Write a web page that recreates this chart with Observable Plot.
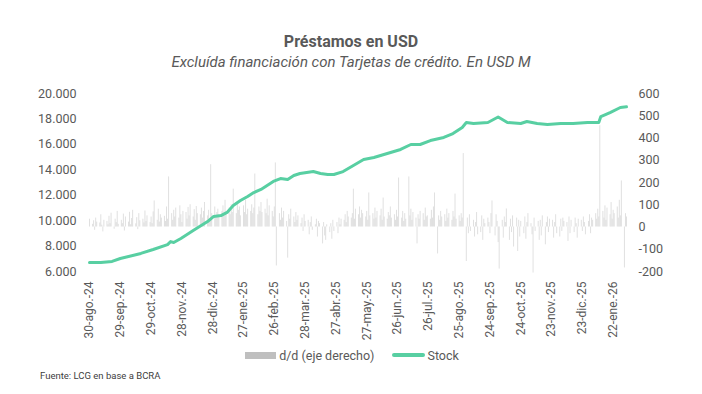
<!DOCTYPE html>
<html>
<head>
<meta charset="utf-8">
<script src="https://cdn.jsdelivr.net/npm/d3@7"></script>
<script src="https://cdn.jsdelivr.net/npm/@observablehq/plot@0.6"></script>
<style>
  html, body { margin: 0; padding: 0; background: #fff; }
  #wrap { position: relative; width: 702px; height: 394px; font-family: Roboto, "Liberation Sans", sans-serif; color: #595959; overflow: hidden; }
  #title { position: absolute; top: 31px; left: 0; width: 702px; text-align: center; font-weight: bold; font-size: 16px; line-height: 22px; }
  #sub { position: absolute; top: 52px; left: 0; width: 702px; text-align: center; font-style: italic; font-size: 15px; line-height: 20px; }
  #chart { position: absolute; top: 80px; left: 0; }
  #legend { position: absolute; top: 346px; left: 0; width: 702px; height: 18px; display: flex; justify-content: center; align-items: center; font-size: 12.5px; padding-left: 2px; box-sizing: border-box; }
  #legend .sw1 { display: inline-block; width: 31px; height: 7px; background: #bfbfbf; margin-right: 3px; }
  #legend .sw2 { display: inline-block; width: 33px; height: 4px; background: #58cfa2; border-radius: 2px; margin-left: 18px; margin-right: 2px; }
  #source { position: absolute; top: 370px; left: 40px; font-size: 9.5px; line-height: 12px; color: #404040; }
</style>
</head>
<body>
<div id="wrap">
  <div id="title">Préstamos en USD</div>
  <div id="sub">Excluída financiación con Tarjetas de crédito. En USD M</div>
  <div id="chart"></div>
  <div id="legend"><span class="sw1"></span><span>d/d (eje derecho)</span><span class="sw2"></span><span>Stock</span></div>
  <div id="source">Fuente: LCG en base a BCRA</div>
</div>
<script>
// ---- Data ----
const startDate = "2024-08-30";
const endDate = "2026-02-04";

const tickDates = ["2024-08-30","2024-09-29","2024-10-29","2024-11-28","2024-12-28","2025-01-27","2025-02-26","2025-03-28","2025-04-27","2025-05-27","2025-06-26","2025-07-26","2025-08-25","2025-09-24","2025-10-24","2025-11-23","2025-12-23","2026-01-22"];
const tickLabels = ["30-ago.-24","29-sep.-24","29-oct.-24","28-nov.-24","28-dic.-24","27-ene.-25","26-feb.-25","28-mar.-25","27-abr.-25","27-may.-25","26-jun.-25","26-jul.-25","25-ago.-25","24-sep.-25","24-oct.-25","23-nov.-25","23-dic.-25","22-ene.-26"];

const leftTicks = [6000, 8000, 10000, 12000, 14000, 16000, 18000, 20000];
const rightTicks = [-200, -100, 0, 100, 200, 300, 400, 500, 600];

// Stock (USD M), left axis
const stockDates = ["2024-08-30","2024-09-10","2024-09-21","2024-09-29","2024-10-19","2024-10-31","2024-11-14","2024-11-17","2024-11-20","2024-11-27","2024-12-09","2024-12-23","2024-12-29","2025-01-05","2025-01-11","2025-01-17","2025-01-24","2025-01-31","2025-02-06","2025-02-13","2025-02-19","2025-02-25","2025-03-04","2025-03-11","2025-03-17","2025-03-23","2025-04-05","2025-04-12","2025-04-19","2025-04-25","2025-05-04","2025-05-14","2025-05-24","2025-06-03","2025-06-16","2025-06-29","2025-07-09","2025-07-18","2025-07-28","2025-08-10","2025-08-19","2025-08-28","2025-09-01","2025-09-08","2025-09-22","2025-10-02","2025-10-11","2025-10-24","2025-10-30","2025-11-09","2025-11-19","2025-12-02","2025-12-14","2025-12-28","2026-01-08","2026-01-10","2026-01-19","2026-01-29","2026-02-04"];
const stockValues = [6700,6700,6790,7020,7420,7730,8120,8350,8280,8600,9220,9930,10330,10400,10650,11190,11580,11900,12210,12450,12760,13080,13310,13230,13550,13710,13860,13710,13630,13630,13860,14340,14810,14970,15280,15600,15990,15990,16300,16540,16850,17330,17720,17640,17720,18150,17720,17640,17800,17640,17560,17640,17640,17720,17720,18190,18500,18900,18950];

// Daily change d/d (USD M), right axis — one value per business day, one row per week
const ddValues = [
  35,
  12, 28, -15, 40, 22,
  18, 55, 8, -22, 30,
  25, 10, 48, 15, 62,
  -10, 35, 20, 70, 12,
  30, 15, 58, -18, 45,
  22, 66, 10, 38, 75,
  14, 42, -12, 60, 28,
  35, 18, 72, 25, 50,
  20, 45, 15, 68, 117,
  30, 80, 22, 55, 40,
  48, 25, 90, 35, 225,
  60, 30, 75, 45, 85,
  40, 95, 55, 20, 70,
  65, 35, 88, 50, 100,
  45, 78, 30, 92, 60,
  55, 85, 40, 70, 110,
  50, 75, 35, 280, 60,
  90, 40, 65, 80, 45,
  70, 95, 50, 120, 60,
  85, 55, 100, 65, 170,
  60, 110, 75, 90, 50,
  95, 65, 120, 55, 80,
  70, 100, 60, 85, 238,
  55, 90, 70, 110, 65,
  80, 60, 125, 50, 95,
  70, 45, 90, 288, -175,
  60, 30, 85, 40, 70,
  25, -140, 55, 35, 80,
  45, 20, 65, 30, 50,
  15, 40, -20, 55, 25,
  30, -35, 20, 45, -15,
  10, 35, -45, 25, 15,
  -76, 20, -40, -60, 10,
  -25, 15, -55, 30, -20,
  20, -30, 40, 10, 35,
  30, 55, 20, 70, 45,
  40, 60, 170, 35, 80,
  55, 90, 40, 75, 60,
  45, 70, 30, 153, 50,
  60, 35, 85, 40, 70,
  50, 80, 30, 130, 45,
  35, 65, 50, 90, 40,
  55, 30, 75, 45, 220,
  40, 70, 25, 60, 35,
  225, 50, 80, 30, 65,
  40, -76, 55, 35, 70,
  60, 30, 85, 45, 50,
  35, 75, 40, 90, 153,
  -121, 50, 30, 70, 45,
  55, 25, 80, 40, 60,
  30, 70, 45, 148, 35,
  50, 25, 60, 40, 330,
  -155, 40, -30, 55, -20,
  30, -45, 20, 65, -35,
  -25, 50, -60, 35, 15,
  40, 20, -30, 60, 117,
  -40, 55, 25, -70, -189,
  30, -50, 45, 20, 81,
  -60, 35, -25, 50, -90,
  40, -110, 30, -45, 25,
  -30, 45, -55, 20, 60,
  15, -35, -207, 40, -20,
  25, -60, 30, -40, 50,
  -80, 20, 45, -25, 35,
  30, -50, 20, 55, -30,
  -45, 35, -20, 40, 25,
  20, -65, 45, -30, 30,
  -25, 40, 15, -50, 35,
  30, -20, 45, 20, -35,
  25, 55, -30, 40, 30,
  60, 35, 80, 45, 455,
  70, 40, 95, 30, 85,
  55, 110, 35, 75, 60,
  90, 40, 120, 50, 207,
  -184, 60, 45
];

// ---- Build tables ----
const parse = d3.utcParse("%Y-%m-%d");
const start = parse(startDate), end = parse(endDate);
const stock = stockDates.map((d, i) => ({date: parse(d), value: stockValues[i]}));
const businessDays = d3.utcDay.range(start, d3.utcDay.offset(end, 1)).filter(d => d.getUTCDay() !== 0 && d.getUTCDay() !== 6);
const n = Math.min(businessDays.length, ddValues.length);
const bars = d3.range(n).map(i => ({date: businessDays[i], value: ddValues[i]}));
const tickMap = new Map(tickDates.map((d, i) => [+parse(d), tickLabels[i]]));

// right axis (-200..600) aligned with left axis (6000..20000)
const toLeft = r => 9500 + r * 17.5;
const fromLeft = v => Math.round((v - 9500) / 17.5);
const fmtLeft = v => d3.format(",")(v).replace(/,/g, ".");

const chart = Plot.plot({
  width: 702,
  height: 265,
  marginTop: 13,
  marginBottom: 74,
  marginLeft: 89,
  marginRight: 76,
  style: {fontFamily: "Roboto, 'Liberation Sans', sans-serif", fontSize: "12px", color: "#595959", background: "white", overflow: "visible"},
  x: {type: "utc", domain: [start, end]},
  y: {domain: [6000, 20000]},
  marks: [
    Plot.ruleX(bars, {x: "date", y1: d => toLeft(0), y2: d => toLeft(d.value), stroke: "#d3d3d3", strokeWidth: 0.7}),
    Plot.line(stock, {x: "date", y: "value", stroke: "#58cfa2", strokeWidth: 3, strokeLinejoin: "round", strokeLinecap: "round"}),
    Plot.axisY({ticks: leftTicks, tickFormat: fmtLeft, tickSize: 0, tickPadding: 13, label: null, fontSize: 12.5}),
    Plot.axisY({anchor: "right", ticks: rightTicks.map(toLeft), tickFormat: v => String(fromLeft(v)), tickSize: 0, tickPadding: 12, label: null, fontSize: 12.5}),
    Plot.axisX({ticks: tickDates.map(parse), tickFormat: d => tickMap.get(+d), tickRotate: -90, tickSize: 0, tickPadding: 10, label: null, fontSize: 12})
  ]
});
document.getElementById("chart").appendChild(chart);
</script>
</body>
</html>
